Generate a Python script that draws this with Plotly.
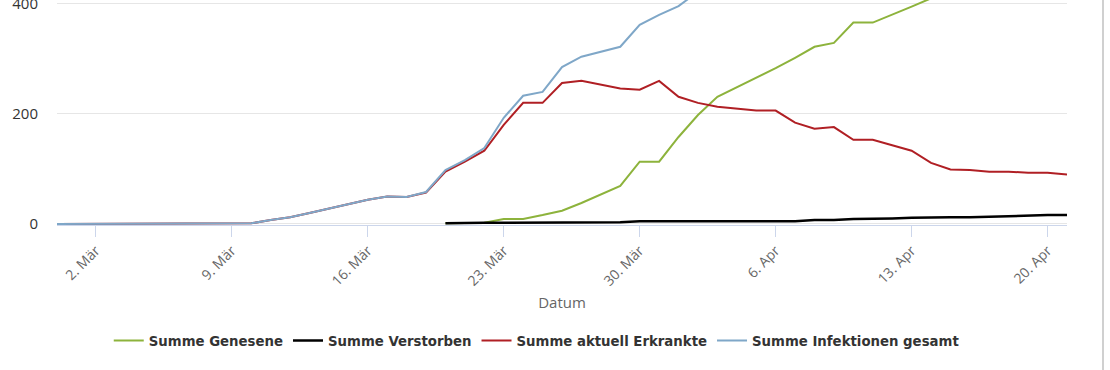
import plotly.graph_objects as go
import pandas as pd

dates = pd.date_range("2020-02-29", "2020-04-21", freq="D").strftime("%Y-%m-%d").tolist()

# Summe Infektionen gesamt (Feb 29 .. Apr 21)
infektionen = [0, 0, 0, 0, 1, 1, 1, 1, 1, 1, 1, 7, 12, 20, 28, 36, 44, 50, 49, 58,
               98, 116, 138, 193, 233, 240, 285, 304, 313, 322, 362, 380,
               396, 421, 448, 462, 476, 494, 496, 503, 513, 529, 530, 533, 539,
               542, 548, 552, 556, 561, 565, 569, 572]
# Summe aktuell Erkrankte (Feb 29 .. Apr 21)
erkrankte = [0, 0, 0, 0, 1, 1, 1, 1, 1, 1, 1, 7, 12, 20, 28, 36, 44, 50, 49, 57,
             95, 113, 133, 180, 220, 220, 256, 260, 253, 246, 244, 260,
             231, 220, 213, 209, 206, 206, 184, 173, 176, 153, 153, 143, 133,
             111, 99, 98, 95, 95, 93, 93, 90]
# Summe Genesene / Verstorben (Mar 20 .. Apr 21)
dates_late = dates[20:]
genesene = [1, 2, 2, 9, 9, 16, 24, 38, 53, 69, 113, 113,
            158, 198, 231, 248, 265, 283, 302, 322, 329, 366, 366, 380, 395,
            410, 425, 435, 442, 448, 453, 458, 466]
verstorben = [1, 2, 2, 2, 2, 2, 2, 3, 3, 3, 5, 5,
              5, 5, 5, 5, 5, 5, 5, 7, 7, 9, 9, 10, 11,
              12, 12, 12, 13, 15, 15, 16, 16]

tick_dates = ["2020-03-02", "2020-03-09", "2020-03-16", "2020-03-23",
              "2020-03-30", "2020-04-06", "2020-04-13", "2020-04-20"]
tick_labels = ["2. Mär", "9. Mär", "16. Mär", "23. Mär",
               "30. Mär", "6. Apr", "13. Apr", "20. Apr"]

series = [
    ("Summe Genesene", dates_late, genesene, "#8db33c", 2),
    ("Summe Verstorben", dates_late, verstorben, "#000000", 2.5),
    ("Summe aktuell Erkrankte", dates, erkrankte, "#b01f24", 2),
    ("Summe Infektionen gesamt", dates, infektionen, "#7fa7c8", 2),
]

fig = go.Figure()
for name, xs, ys, col, w in series:
    fig.add_trace(go.Scatter(x=xs, y=ys, name=name, mode="lines",
                             line=dict(color=col, width=w)))

fig.update_layout(
    width=1110, height=370,
    margin=dict(l=57, r=43, t=0, b=145),
    plot_bgcolor="white", paper_bgcolor="white",
    font=dict(family="Open Sans", color="#333333"),
    showlegend=True,
    legend=dict(orientation="h", x=0.475, xanchor="center", y=-0.515, yanchor="middle",
                font=dict(family="DejaVu Sans", size=13.3, color="#333333", weight="bold"),
                itemwidth=30),
    xaxis=dict(range=["2020-02-29", "2020-04-21"], tickvals=tick_dates, ticktext=tick_labels,
               tickangle=-45, tickfont=dict(size=14, color="#666666"),
               ticks="outside", ticklen=11, tickcolor="#ccd6eb", automargin=False,
               showgrid=False, showline=True, linecolor="#ccd6eb", linewidth=1,
               title=dict(text="Datum", font=dict(size=15, color="#666666"), standoff=8)),
    yaxis=dict(range=[-2, 407], tickvals=[0, 200, 400], tickfont=dict(size=15, color="#333333"),
               showgrid=True, gridcolor="#e6e6e6", zeroline=False, ticklabelstandoff=18,
               ticklabeloverflow="allow", automargin=False),
    shapes=[dict(type="line", xref="paper", yref="paper", layer="above",
                 x0=(1103 - 57) / 1010, x1=(1103 - 57) / 1010, y0=-0.7, y1=1.05,
                 line=dict(color="#d0d0d0", width=2))],
)

fig.write_html("out.html", config={"displayModeBar": False},
               post_script="document.body.style.margin='0';document.body.style.overflow='hidden';")
